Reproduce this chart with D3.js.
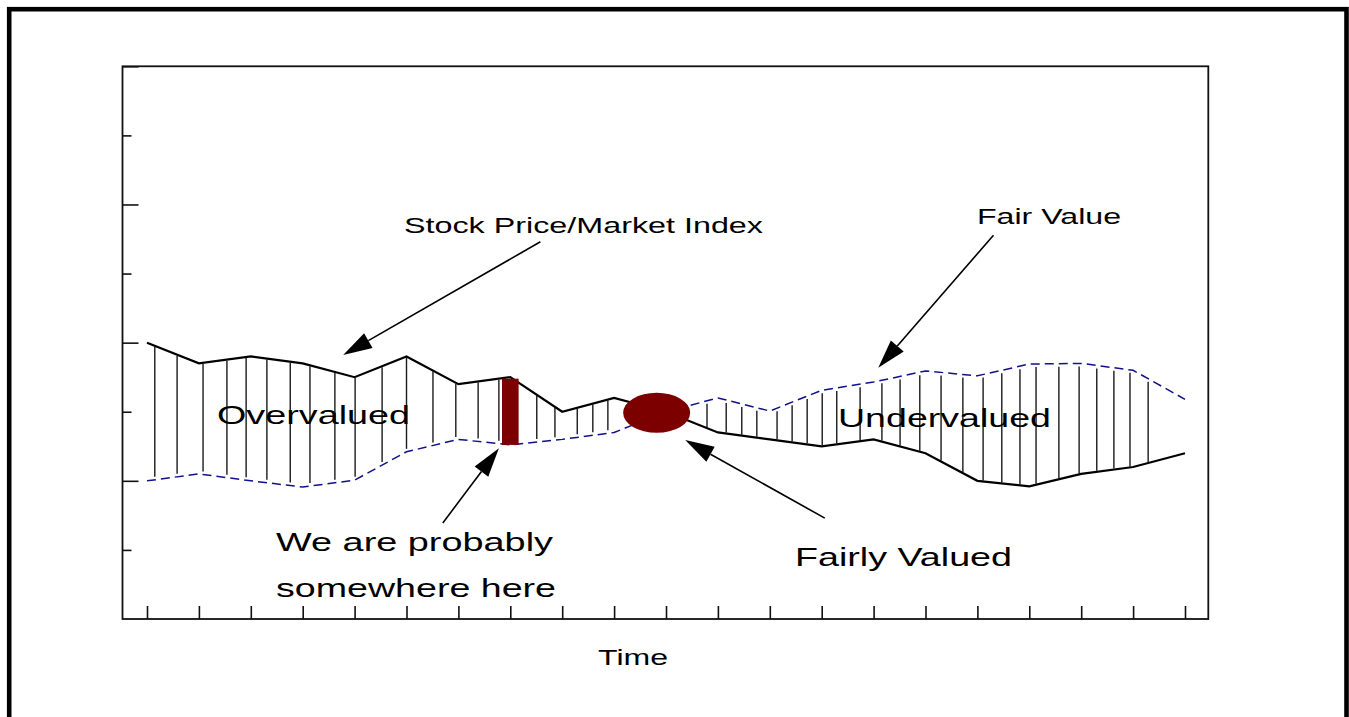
<!DOCTYPE html>
<html>
<head>
<meta charset="utf-8">
<script src="https://cdn.jsdelivr.net/npm/d3@7"></script>
<style>
	body { margin: 0; background: #fff; }
	svg { display: block; }
	text { font-family: "Liberation Sans", Arial, sans-serif; fill: #000; }
</style>
</head>
<body>
<div id="chart"></div>
<script>
// time periods 0..20 (one per x tick)
var periods = d3.range(0, 21);
// stock price / market index
var stockPrice = [40, 37, 38, 37, 35, 38, 34, 35, 30, 32, 30, 27, 26, 25, 26, 24, 20, 19.2, 21, 22, 24];
// fair value (dashed)
var fairValue = [20, 21, 20, 19.1, 20.1, 24.2, 26, 25.2, 26, 27, 30, 32, 30.1, 33.1, 34.3, 35.9, 35.2, 36.9, 37, 36, 31.8];
// where the vertical hatch lines sit (in periods)
var hatchAt = [0.15, 0.58, 1.08, 1.54, 1.91, 2.31, 2.76, 3.14, 3.62, 4.01, 4.53, 5.0, 5.51, 5.95, 6.38, 6.78,
	7.51, 7.86, 8.29, 8.59, 8.88,
	10.79, 11.16, 11.46, 11.75, 12.14, 12.43, 12.72, 13.01, 13.29, 13.74, 14.16, 14.51, 14.89, 15.30, 15.72,
	16.11, 16.47, 16.82, 17.13, 17.57, 17.96, 18.30, 18.63, 18.94, 19.29];
var majorTicks = [20, 40, 60, 80];
var minorTicks = [10, 30, 50, 70];
// "we are probably somewhere here" and "fairly valued" markers
var herePeriod = 7;
var fairPoint = [9.82, 29.85];

var config = {
	width		: 1349,
	height		: 717,
	plotLeft	: 122.5,
	plotTop		: 66.3,
	plotRight	: 1208.3,
	plotBottom	: 619,
	xFirst		: 147,
	xLast		: 1185,
	navy		: '#11118a',
	darkRed		: '#7d0000'
};

var x = d3.scaleLinear().domain([0, 20]).range([config.xFirst, config.xLast]);
var y = d3.scaleLinear().domain([0, 80]).range([config.plotBottom, config.plotTop]);

function valueAt(series, t) {
	var i0 = Math.max(0, Math.min(series.length - 2, Math.floor(t)));
	var f = t - i0;
	return series[i0] + (series[i0 + 1] - series[i0]) * f;
}

var svg = d3.select('#chart').append('svg')
	.attr('width', config.width)
	.attr('height', config.height);

// outer frame
svg.append('rect')
	.attr('x', 9.2).attr('y', 9.2)
	.attr('width', 1337.3).attr('height', 740)
	.attr('fill', 'none')
	.attr('stroke', '#000')
	.attr('stroke-width', 4.6);

// plot frame
svg.append('rect')
	.attr('x', config.plotLeft).attr('y', config.plotTop)
	.attr('width', config.plotRight - config.plotLeft)
	.attr('height', config.plotBottom - config.plotTop)
	.attr('fill', 'none')
	.attr('stroke', '#111')
	.attr('stroke-width', 1.8);

// y ticks (inward, no labels)
var yMajor = svg.append('g')
	.attr('transform', 'translate(' + config.plotLeft + ',0)')
	.call(d3.axisLeft(y).tickValues(majorTicks).tickSize(-16).tickFormat(''));
var yMinor = svg.append('g')
	.attr('transform', 'translate(' + config.plotLeft + ',0)')
	.call(d3.axisLeft(y).tickValues(minorTicks).tickSize(-9).tickFormat(''));
// x ticks (inward)
var xAxis = svg.append('g')
	.attr('transform', 'translate(0,' + config.plotBottom + ')')
	.call(d3.axisBottom(x).tickValues(periods).tickSize(-13).tickFormat(''));
[yMajor, yMinor, xAxis].forEach(function(g) {
	g.select('.domain').remove();
	g.selectAll('line').attr('stroke', '#111').attr('stroke-width', 1.6);
});

// vertical hatching between the two lines
svg.append('g').attr('class', 'hatch')
	.selectAll('line')
	.data(hatchAt)
	.enter().append('line')
	.attr('x1', function(d) { return x(d); })
	.attr('x2', function(d) { return x(d); })
	.attr('y1', function(d) {
		var s = valueAt(stockPrice, d), f = valueAt(fairValue, d);
		return s > f ? y(s) + 1 : y(s) - 1;
	})
	.attr('y2', function(d) {
		var s = valueAt(stockPrice, d), f = valueAt(fairValue, d);
		return s > f ? y(f) - 3 : y(f) + 3;
	})
	.attr('stroke', '#1a1a1a')
	.attr('stroke-width', 1.4);

var line = d3.line()
	.x(function(d, i) { return x(periods[i]); })
	.y(function(d) { return y(d); })
	.curve(d3.curveLinear);

svg.append('path')
	.datum(fairValue)
	.attr('d', line)
	.attr('fill', 'none')
	.attr('stroke', config.navy)
	.attr('stroke-width', 1.5)
	.attr('stroke-dasharray', '9,5');

svg.append('path')
	.datum(stockPrice)
	.attr('d', line)
	.attr('fill', 'none')
	.attr('stroke', '#000')
	.attr('stroke-width', 2.2);

// red bar: "we are probably somewhere here"
var barW = 16.6;
svg.append('rect')
	.attr('x', x(herePeriod) - barW / 2)
	.attr('y', y(valueAt(stockPrice, herePeriod)) + 1.5)
	.attr('width', barW)
	.attr('height', y(valueAt(fairValue, herePeriod)) - y(valueAt(stockPrice, herePeriod)) - 1.5)
	.attr('fill', config.darkRed);

// fairly valued ellipse
svg.append('ellipse')
	.attr('cx', x(fairPoint[0]))
	.attr('cy', y(fairPoint[1]))
	.attr('rx', 33.5)
	.attr('ry', 20)
	.attr('fill', config.darkRed);

// annotation arrows, in chart units: [tail, tip]
var arrows = [
	[[7.58, 54.6], [3.78, 38.2]],
	[[16.31, 55.55], [14.09, 36.35]],
	[[5.70, 13.9], [6.78, 24.7]],
	[[13.06, 14.6], [10.37, 25.9]]
];
var ag = svg.append('g').attr('class', 'arrows');
arrows.forEach(function(a) {
	var x1 = x(a[0][0]), y1 = y(a[0][1]), x2 = x(a[1][0]), y2 = y(a[1][1]);
	var ang = Math.atan2(y2 - y1, x2 - x1);
	var headLen = 29, headHalf = 8.5;
	var bx = x2 - headLen * Math.cos(ang), by = y2 - headLen * Math.sin(ang);
	ag.append('line')
		.attr('x1', x1).attr('y1', y1)
		.attr('x2', bx).attr('y2', by)
		.attr('stroke', '#000')
		.attr('stroke-width', 1.6);
	ag.append('path')
		.attr('d', 'M' + x2 + ',' + y2 +
			'L' + (bx + headHalf * Math.sin(ang)) + ',' + (by - headHalf * Math.cos(ang)) +
			'L' + (bx - headHalf * Math.sin(ang)) + ',' + (by + headHalf * Math.cos(ang)) + 'Z')
		.attr('fill', '#000');
});

// labels: the original text is drawn horizontally stretched
var labels = [
	{ text: 'Stock Price/Market Index', x: 404, y: 232.7, size: 22, w: 359 },
	{ text: 'Fair Value', x: 977, y: 224.3, size: 22, w: 144 },
	{ text: 'Overvalued', x: 217, y: 424, size: 26.5, w: 193 },
	{ text: 'Undervalued', x: 838, y: 427, size: 26.5, w: 213 },
	{ text: 'We are probably', x: 276, y: 551, size: 26.5, w: 277 },
	{ text: 'somewhere here', x: 276, y: 597, size: 26.5, w: 280 },
	{ text: 'Fairly Valued', x: 795, y: 566, size: 26.5, w: 217 },
	{ text: 'Time', x: 598, y: 665, size: 22, w: 70 }
];
svg.append('g').attr('class', 'labels')
	.selectAll('text')
	.data(labels)
	.enter().append('text')
	.attr('x', function(d) { return d.x; })
	.attr('y', function(d) { return d.y; })
	.attr('font-size', function(d) { return d.size + 'px'; })
	.attr('textLength', function(d) { return d.w; })
	.attr('lengthAdjust', 'spacingAndGlyphs')
	.text(function(d) { return d.text; });
</script>
</body>
</html>
